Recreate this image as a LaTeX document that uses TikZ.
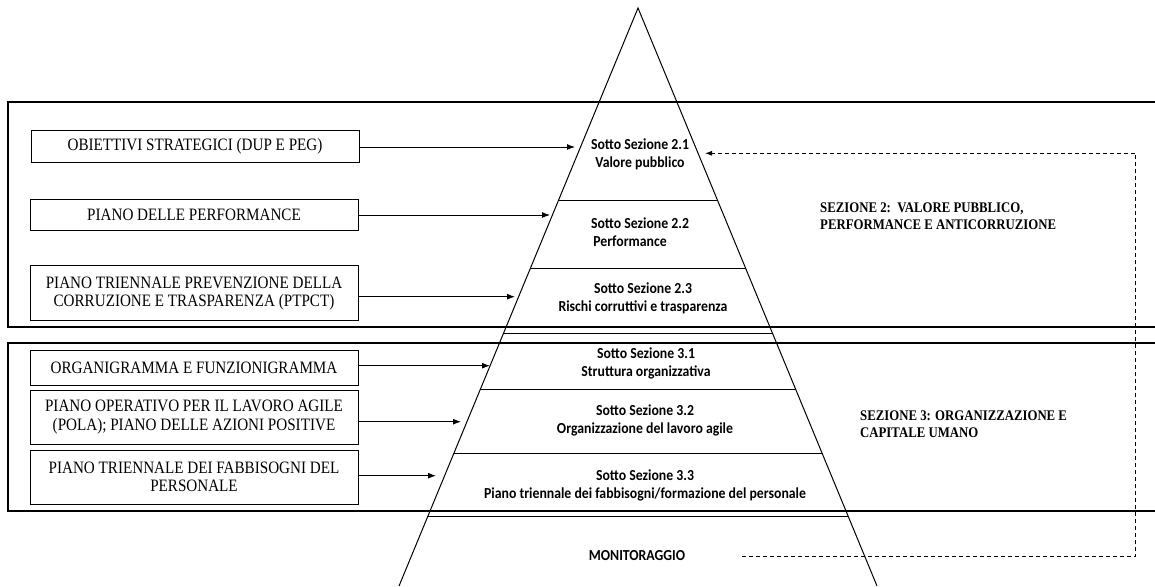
\documentclass[tikz,border=0pt]{standalone}
\usepackage{fontspec}
\setmainfont{Liberation Serif}[FakeStretch=0.87]
\newfontfamily\calib{Carlito}[FakeStretch=0.9]
\usetikzlibrary{arrows.meta,calc}
\begin{document}
\begin{tikzpicture}[x=1pt,y=-1pt,
  leftbox/.style={draw, line width=1pt, minimum width=328pt, inner sep=0pt, align=center,
    font=\fontsize{17.4}{18.3}\selectfont},
  pyrtext/.style={inner sep=0pt, align=center, font=\calib\bfseries\fontsize{15.3}{18}\selectfont},
  sectext/.style={inner sep=0pt, align=left, anchor=west, font=\bfseries\fontsize{14.7}{16.7}\selectfont},
  frame/.style={line width=2pt},
  level/.style={line width=0.9pt},
  tri/.style={line width=1pt},
  arr/.style={line width=1pt, -{Latex[length=8pt,width=6pt]}},
  dasharr/.style={line width=0.9pt, dash pattern=on 4pt off 3pt, -{Latex[length=7pt,width=5pt]}}
]
\useasboundingbox (0,0) rectangle (1155,586);

% section frames
\draw[frame] (1160,102) -- (8.3,102) -- (8.3,326.7) -- (1160,326.7);
\draw[frame] (1160,343) -- (8.3,343) -- (8.3,510.5) -- (1160,510.5);

% pyramid
\coordinate (apex) at (638,8);
\coordinate (bl) at (399,586);
\coordinate (br) at (877,586);
\draw[tri] (bl) -- (apex) -- (br);
\foreach \yy in {200,268,333,389.3,453.3,516.7}
  \draw[level] ($(apex)!{(\yy-8)/578}!(bl)$) -- ($(apex)!{(\yy-8)/578}!(br)$);

% pyramid texts
\node[pyrtext] (s21) at (640,154) {Sotto Sezione 2.1\\Valore pubblico};
\node[pyrtext] (s22) at (640,231.7) {Sotto Sezione 2.2\\\hspace*{-20pt}Performance};
\node[pyrtext] (s23) at (643,298) {Sotto Sezione 2.3\\Rischi corruttivi e trasparenza};
\node[pyrtext] (s31) at (646,363.3) {Sotto Sezione 3.1\\Struttura organizzativa};
\node[pyrtext] (s32) at (645,420) {Sotto Sezione 3.2\\Organizzazione del lavoro agile};
\node[pyrtext] (s33) at (645,485.8) {Sotto Sezione 3.3\\Piano triennale dei fabbisogni/formazione del personale};
\node[pyrtext] (mon) at (637,556) {MONITORAGGIO};

% section labels
\node[sectext] (sec2) at (820,216.5) {SEZIONE 2:\ \ VALORE PUBBLICO,\\PERFORMANCE E ANTICORRUZIONE};
\node[sectext] (sec3) at (860,424) {SEZIONE 3: ORGANIZZAZIONE E\\CAPITALE UMANO};

% left boxes
\node[leftbox, minimum height=31.6pt] (b1) at (195,146.5) {OBIETTIVI STRATEGICI (DUP E PEG)};
\node[leftbox, minimum height=30.7pt] (b2) at (194,214.7) {PIANO DELLE PERFORMANCE};
\node[leftbox, minimum height=54.7pt] (b3) at (194,293.3) {PIANO TRIENNALE PREVENZIONE DELLA\\CORRUZIONE E TRASPARENZA (PTPCT)};
\node[leftbox, minimum height=35pt] (b4) at (194,368.2) {ORGANIGRAMMA E FUNZIONIGRAMMA};
\node[leftbox, minimum height=54pt] (b5) at (194,417.2) {PIANO OPERATIVO PER IL LAVORO AGILE\\(POLA); PIANO DELLE AZIONI POSITIVE};
\node[leftbox, minimum height=54pt] (b6) at (194,477) {PIANO TRIENNALE DEI FABBISOGNI DEL\\PERSONALE};

% arrow tips
\coordinate (t1) at (575,147);
\coordinate (t2) at (550,215);
\coordinate (t3) at (515,296.7);
\coordinate (t4) at (490,365.7);
\coordinate (t5) at (461,421.7);
\coordinate (t6) at (436,475.7);
\draw[arr] (t1 -| b1.east) -- (t1);
\draw[arr] (t2 -| b2.east) -- (t2);
\draw[arr] (t3 -| b3.east) -- (t3);
\draw[arr] (t4 -| b4.east) -- (t4);
\draw[arr] (t5 -| b5.east) -- (t5);
\draw[arr] (t6 -| b6.east) -- (t6);

% monitoring feedback
\coordinate (m0) at (742,556.7);
\coordinate (c1) at (1135.7,556.7);
\coordinate (t0) at (705,153.3);
\draw[dasharr] (m0) -- (c1) |- (t0);
\end{tikzpicture}
\end{document}
